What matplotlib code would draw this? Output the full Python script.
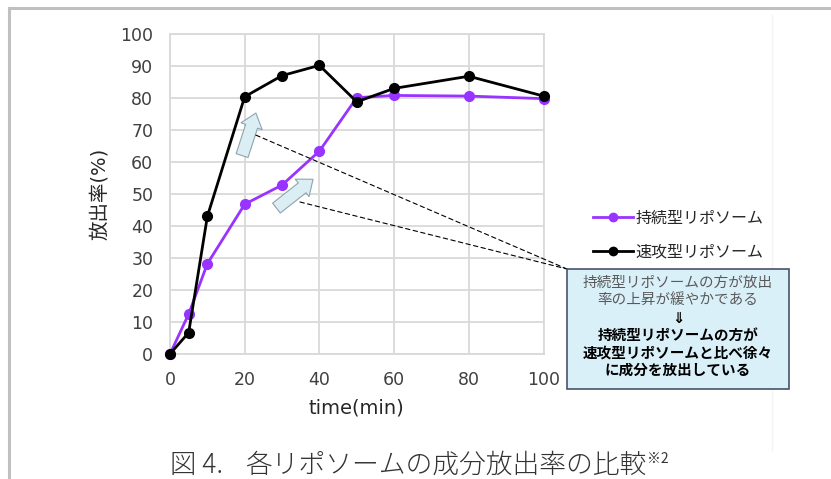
import matplotlib
matplotlib.use("Agg")
import matplotlib.pyplot as plt
from matplotlib.patches import FancyArrowPatch, ConnectionPatch, Rectangle
from matplotlib.lines import Line2D

plt.rcParams['font.family'] = ['Noto Sans CJK JP', 'DejaVu Sans']

time_min = [0, 5, 10, 20, 30, 40, 50, 60, 80, 100]
sustained = [0, 12.5, 28.2, 46.8, 52.8, 63.4, 80.1, 80.8, 80.6, 79.8]
rapid = [0, 6.7, 43.0, 80.4, 87.0, 90.2, 78.8, 83.0, 86.8, 80.6]
series_names = ['持続型リポソーム', '速攻型リポソーム']
x_ticks = [0, 20, 40, 60, 80, 100]
y_ticks = [0, 10, 20, 30, 40, 50, 60, 70, 80, 90, 100]
x_label = 'time(min)'
y_label = '放出率(%)'
caption_num = '図 4.'
caption = '各リポソームの成分放出率の比較'
caption_sup = '※2'
note_light = ['持続型リポソームの方が放出', '率の上昇が緩やかである']
note_bold = ['⇓', '持続型リポソームの方が', '速攻型リポソームと比べ徐々', 'に成分を放出している']

W, H = 831, 479
fig = plt.figure(figsize=(W / 100, H / 100), dpi=100)

def fx(x):
    return x / W

def fy(y):
    return 1 - y / H

ax = fig.add_axes([fx(170), fy(354), fx(543.5) - fx(170), fy(34) - fy(354)])

purple = '#9933FF'
ax.plot(time_min, sustained, color=purple, lw=2.0, marker='o', ms=7,
        clip_on=False, zorder=3, label=series_names[0])
ax.plot(time_min, rapid, color='black', lw=2.0, marker='o', ms=7,
        clip_on=False, zorder=4, label=series_names[1])

ax.set_xlim(0, 100)
ax.set_ylim(0, 100)
ax.set_xticks(x_ticks)
ax.set_yticks(y_ticks)
ax.grid(True, color='#D9D9D9', lw=1.3)
ax.set_axisbelow(True)
for s in ax.spines.values():
    s.set_color('#D9D9D9')
    s.set_linewidth(1.3)
ax.tick_params(length=0, labelsize=12.5, colors='#404040')
ax.tick_params(axis='x', pad=12)
ax.tick_params(axis='y', pad=12)
for lab in ax.get_xticklabels() + ax.get_yticklabels():
    lab.set_family(['DejaVu Sans'])
ax.set_xlabel(x_label, fontsize=14, color='#262626', labelpad=7,
              family=['DejaVu Sans'])
ax.set_ylabel(y_label, fontsize=14, color='#262626', labelpad=8,
              family=['DejaVu Sans', 'Noto Sans CJK JP'])

# legend
handles = [Line2D([], [], color=purple, lw=2.0, marker='o', ms=6),
           Line2D([], [], color='black', lw=2.0, marker='o', ms=6)]
fig.legend(handles, series_names, loc='upper left',
           bbox_to_anchor=(fx(579), fy(195)), frameon=False,
           fontsize=11.5, handlelength=2.5, labelspacing=1.05,
           handletextpad=0.15, labelcolor='#262626')

# annotation box
bx0, by0, bx1, by1 = 567, 269, 789, 389
fig.patches.append(Rectangle((fx(bx0), fy(by1)), fx(bx1) - fx(bx0), fy(by0) - fy(by1),
                             transform=fig.transFigure, facecolor='#DAF0F8',
                             edgecolor='#44546A', lw=1.2, zorder=5))
cx = fx((bx0 + bx1) / 2)
line_y = [283, 300, 318, 335, 353, 370]
for i, t in enumerate(note_light):
    fig.text(cx, fy(line_y[i]), t, ha='center', va='center', fontsize=10.5,
             color='#595959', zorder=6)
for i, t in enumerate(note_bold):
    fig.text(cx, fy(line_y[i + 2]), t, ha='center', va='center', fontsize=10.5,
             color='black', fontweight='bold', zorder=6)

# dashed connectors
for (xa, ya) in [(23.0, 68.4), (34.8, 47.5)]:
    con = ConnectionPatch(xyA=(xa, ya), coordsA=ax.transData,
                          xyB=(fx(bx0), fy(by0)), coordsB=fig.transFigure,
                          color='black', lw=0.8, ls=(0, (4, 3)), zorder=2)
    fig.add_artist(con)

# block arrows
for (t0, t1) in [((19.3, 62.0), (23.0, 75.3)), ((28.5, 45.6), (38.3, 54.6))]:
    arr = FancyArrowPatch(t0, t1, arrowstyle='simple,head_width=16,head_length=10,tail_width=9',
                          mutation_scale=1, facecolor='#DAEEF3', edgecolor='#8EA4B0',
                          lw=0.8, shrinkA=0, shrinkB=0, zorder=5, clip_on=False)
    ax.add_patch(arr)

# outer frame
fig.add_artist(Line2D([fx(9), 1], [fy(8), fy(8)], transform=fig.transFigure,
                      color='#C0C0C0', lw=2.2))
fig.add_artist(Line2D([fx(9), fx(9)], [fy(8), 0], transform=fig.transFigure,
                      color='#C0C0C0', lw=2.2))
fig.add_artist(Line2D([fx(772), fx(772)], [fy(15), fy(450)], transform=fig.transFigure,
                      color='#F4F4F4', lw=1))

# caption
fig.text(fx(170), fy(465), caption_num, ha='left', va='center', fontsize=19,
         color='#333333', fontweight='light')
t = fig.text(fx(245), fy(465), caption, ha='left', va='center', fontsize=19.3,
             color='#333333', fontweight='light')
fig.canvas.draw()
bb = t.get_window_extent()
fig.text(bb.x1 / W + 0.001, fy(459), caption_sup, ha='left', va='center',
         fontsize=10, color='#333333')

fig.savefig('out.png', dpi=100)
